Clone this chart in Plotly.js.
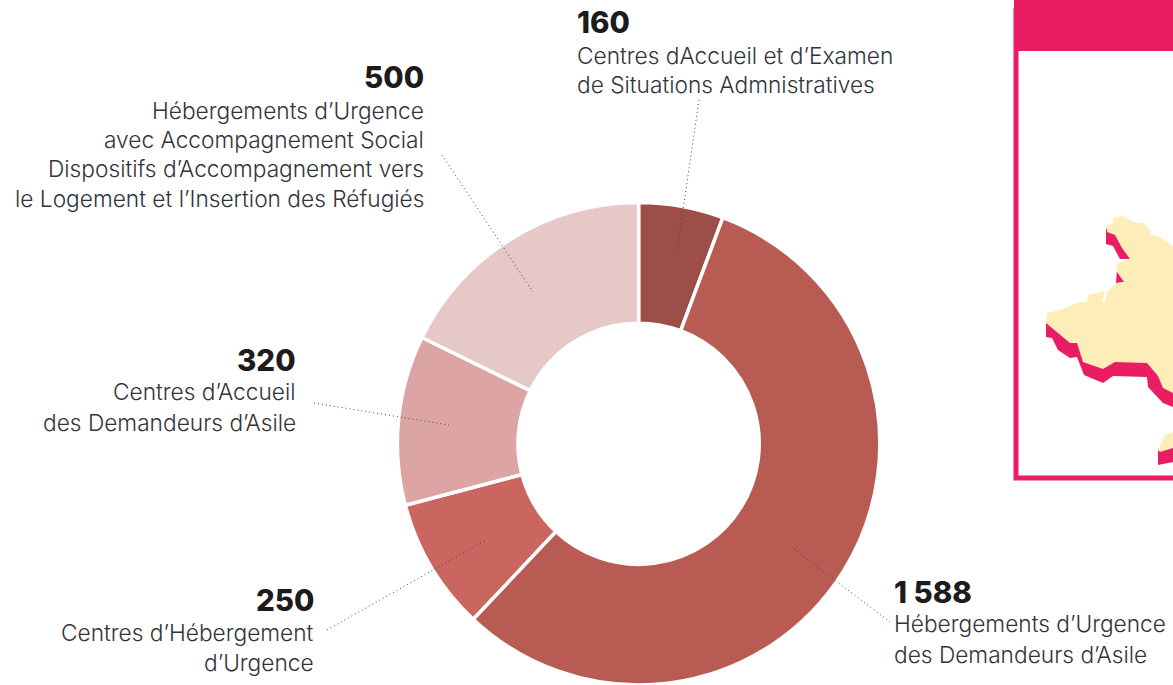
<!DOCTYPE html>
<html>
<head>
<meta charset="utf-8">
<script src="https://cdn.plot.ly/plotly-3.0.1.min.js"></script>
<style>html,body{margin:0;padding:0;background:#fff;overflow:hidden}</style>
</head>
<body>
<div id="chart" style="width:1173px;height:685px"></div>
<script>
const W = 1173, H = 685;
const categories = ["Centres d'Accueil et d'Examen de Situations Admnistratives","Hébergements d'Urgence des Demandeurs d'Asile","Centres d'Hébergement d'Urgence","Centres d'Accueil des Demandeurs d'Asile","Hébergements d'Urgence avec Accompagnement Social / Dispositifs d'Accompagnement vers le Logement et l'Insertion des Réfugiés"];
const values = [160, 1588, 250, 320, 500];
const valueLabels = ["160", "1 588", "250", "320", "500"];
const sliceColors = ["#9e4e48", "#b85c53", "#cb6560", "#dca5a3", "#e6c8c6"];
const labelLines = [
  ["Centres dAccueil et d’Examen", "de Situations Admnistratives"],
  ["Hébergements d’Urgence", "des Demandeurs d’Asile"],
  ["Centres d’Hébergement", "d’Urgence"],
  ["Centres d’Accueil", "des Demandeurs d’Asile"],
  ["Hébergements d’Urgence", "avec Accompagnement Social", "Dispositifs d’Accompagnement vers", "le Logement et l’Insertion des Réfugiés"]
];
const textX = [575.5, 893, 315, 297, 425];
const textAnchor = ["left", "left", "right", "right", "right"];
const valueY = [22, 592, 600, 360, 77];
const lineY = [[55, 84], [623, 654], [632, 662], [392, 422], [110, 139, 168, 198]];
const leaders = [[699,100,677,251],[794,549,890,622],[327,630,486,540],[314,403,449,425],[442,155,533,292]];

const px = x => x / W, py = y => 1 - y / H;
const path = pts => "M" + pts.map(p => px(p[0]).toFixed(5) + "," + py(p[1]).toFixed(5)).join("L") + "Z";

const PINK = "#e91c64", CREAM = "#fdeeb9";
const mapShadow = [[1046,323],[1046,337],[1052,338],[1058,350],[1070,358],[1077,357],[1084,375],[1103,383],[1113,376],[1147,377],[1148,387],[1163,403],[1173,407],[1173,380],[1150,350],[1060,320]];
const mapShadow2 = [[1106,229],[1106,244],[1113,246],[1120,259],[1130,259],[1130,245],[1118,228]];
const mapShadow3 = [[1117,270],[1116,283],[1124,282],[1124,270]];
const mapLand = [[1113,218],[1123,216],[1133,222],[1143,223],[1150,230],[1151,235],[1160,237],[1173,246],[1173,393],[1163,388],[1158,376],[1147,363],[1115,362],[1103,369],[1083,362],[1077,343],[1070,343],[1058,333],[1046,323],[1047,313],[1060,310],[1080,302],[1087,302],[1088,295],[1105,291],[1102,302],[1105,302],[1107,292],[1117,283],[1124,282],[1117,272],[1117,263],[1125,261],[1130,259],[1122,248],[1115,235],[1107,232],[1107,225],[1113,224]];
const isleShadow = [[1158,450],[1158,465],[1173,462],[1173,445]];
const isleLand = [[1158,450],[1165,435],[1173,432],[1173,448],[1160,452]];

const fill = (pts, color) => ({type:"path", xref:"paper", yref:"paper", path:path(pts), fillcolor:color, line:{width:0}, layer:"below"});
const shapes = [
  {type:"rect", xref:"paper", yref:"paper", x0:px(1016), x1:px(1185), y0:py(478), y1:py(10), line:{color:PINK, width:5}, fillcolor:"#fff", layer:"below"},
  {type:"rect", xref:"paper", yref:"paper", x0:px(1014), x1:px(1173), y0:py(51), y1:py(0), line:{width:0}, fillcolor:PINK, layer:"below"},
  fill(mapShadow, PINK), fill(mapShadow2, PINK), fill(mapShadow3, PINK), fill(mapLand, CREAM),
  fill(isleShadow, PINK), fill(isleLand, CREAM)
];
leaders.forEach(l => shapes.push({type:"line", xref:"paper", yref:"paper", x0:px(l[0]), y0:py(l[1]), x1:px(l[2]), y1:py(l[3]), line:{color:"#4a4646", width:1, dash:"1px,3px"}, layer:"above"}));

const annotations = [];
values.forEach((v, i) => {
  annotations.push({xref:"paper", yref:"paper", x:px(textX[i]), y:py(valueY[i]), xanchor:textAnchor[i], yanchor:"middle", showarrow:false, text:valueLabels[i], borderpad:0, font:{family:"Inter, sans-serif", size:29.5, weight:800, color:"#1d1b1b"}});
  labelLines[i].forEach((t, j) => annotations.push({xref:"paper", yref:"paper", x:px(textX[i]), y:py(lineY[i][j]), xanchor:textAnchor[i], yanchor:"middle", showarrow:false, text:t, borderpad:0, font:{family:"Inter, sans-serif", size:22.7, weight:300, color:"#33333a"}}));
});

const cx = 638.6, cy = 444, r = 241.5;
Plotly.newPlot("chart", [{
  type:"pie", labels:categories, values:values, sort:false, direction:"clockwise", rotation:0, hole:0.5,
  marker:{colors:sliceColors, line:{color:"#fff", width:3.5}}, textinfo:"none", hoverinfo:"label+value",
  domain:{x:[(cx-r)/W,(cx+r)/W], y:[(H-cy-r)/H,Math.min(1,(H-cy+r)/H)]}
}], {
  width:W, height:H, margin:{l:0,r:0,t:0,b:0}, showlegend:false, paper_bgcolor:"#fff", shapes, annotations
}, {displayModeBar:false, staticPlot:true});
</script>
</body>
</html>
